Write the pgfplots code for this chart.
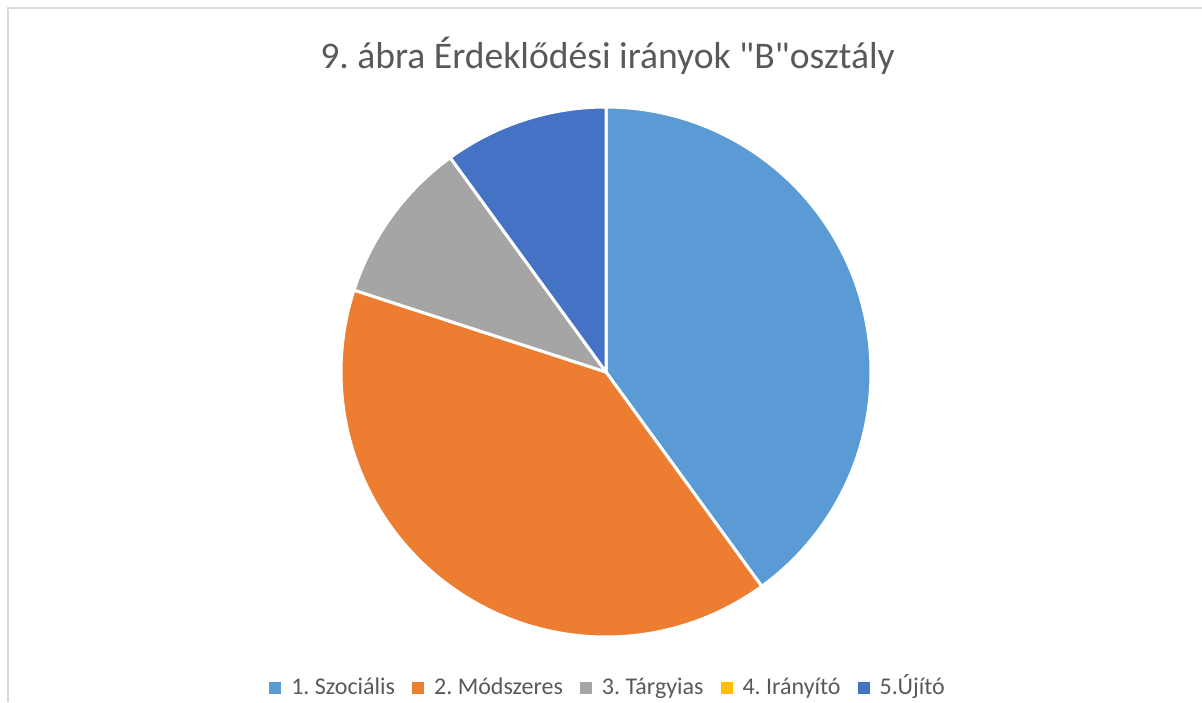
\documentclass[border=0pt]{standalone}
\usepackage{pgfplots}
\pgfplotsset{compat=1.18}
\usepackage{fontspec}
\setmainfont{Carlito}[Ligatures=TeXOff]
\frenchspacing
\definecolor{c1}{HTML}{5B9BD5}
\definecolor{c2}{HTML}{ED7D31}
\definecolor{c3}{HTML}{A5A5A5}
\definecolor{c4}{HTML}{FFC000}
\definecolor{c5}{HTML}{4472C4}
\definecolor{txt}{HTML}{595959}
\definecolor{frame}{HTML}{D9D9D9}
% pie centre and radius in picture pixels (y measured upwards)
\def\cx{606}\def\cy{330}\def\rad{265}
\def\startang{90}
\newcommand\pieslice[2]{% #1 = share in percent, #2 = colour
  \pgfmathsetmacro\endang{\startang-3.6*#1}%
  \ifdim #1pt>0pt
    \edef\doslice{\noexpand\addplot[fill=#2, draw=white, line width=1.5pt, line join=round,
      domain=\startang:\endang, samples=120, variable=\noexpand\t]
      ({\cx+\rad*cos(\noexpand\t)},{\cy+\rad*sin(\noexpand\t)}) -- (axis cs:\cx,\cy) -- cycle;}%
    \doslice
  \fi
  \global\let\startang\endang
}
\newcommand\legsq[1]{\textcolor{#1}{\rule{6pt}{6pt}}\hspace{5pt}}
\newcommand\leggap{\hspace{8.5pt}}
\begin{document}
\begin{tikzpicture}
\begin{axis}[
  scale only axis, width=601pt, height=351pt,
  xmin=0, xmax=1202, ymin=0, ymax=702,
  hide axis, clip=false,
]
% shares (percent): 1. Szociális, 2. Módszeres, 3. Tárgyias, 4. Irányító, 5.Újító
\pieslice{40}{c1}
\pieslice{40}{c2}
\pieslice{10}{c3}
\pieslice{0}{c4}
\pieslice{10}{c5}
\draw[frame, line width=1pt] (axis cs:7.7,0) -- (axis cs:7.7,694.3) -- (axis cs:1202,694.3);
\node[anchor=base, text=txt, font=\fontsize{18.8}{22}\selectfont, inner sep=0pt]
  at (axis cs:607.5,633) {9. ábra Érdeklődési irányok "B"osztály};
\node[anchor=base, text=txt, font=\fontsize{12}{14}\selectfont, inner sep=0pt]
  at (axis cs:607,8) {\legsq{c1}1. Szociális\leggap\legsq{c2}2. Módszeres\leggap\legsq{c3}3. Tárgyias\leggap\legsq{c4}4. Irányító\leggap\legsq{c5}5.Újító};
\end{axis}
\pgfresetboundingbox
\path (current axis.south west) rectangle (current axis.north east);
\end{tikzpicture}
\end{document}
